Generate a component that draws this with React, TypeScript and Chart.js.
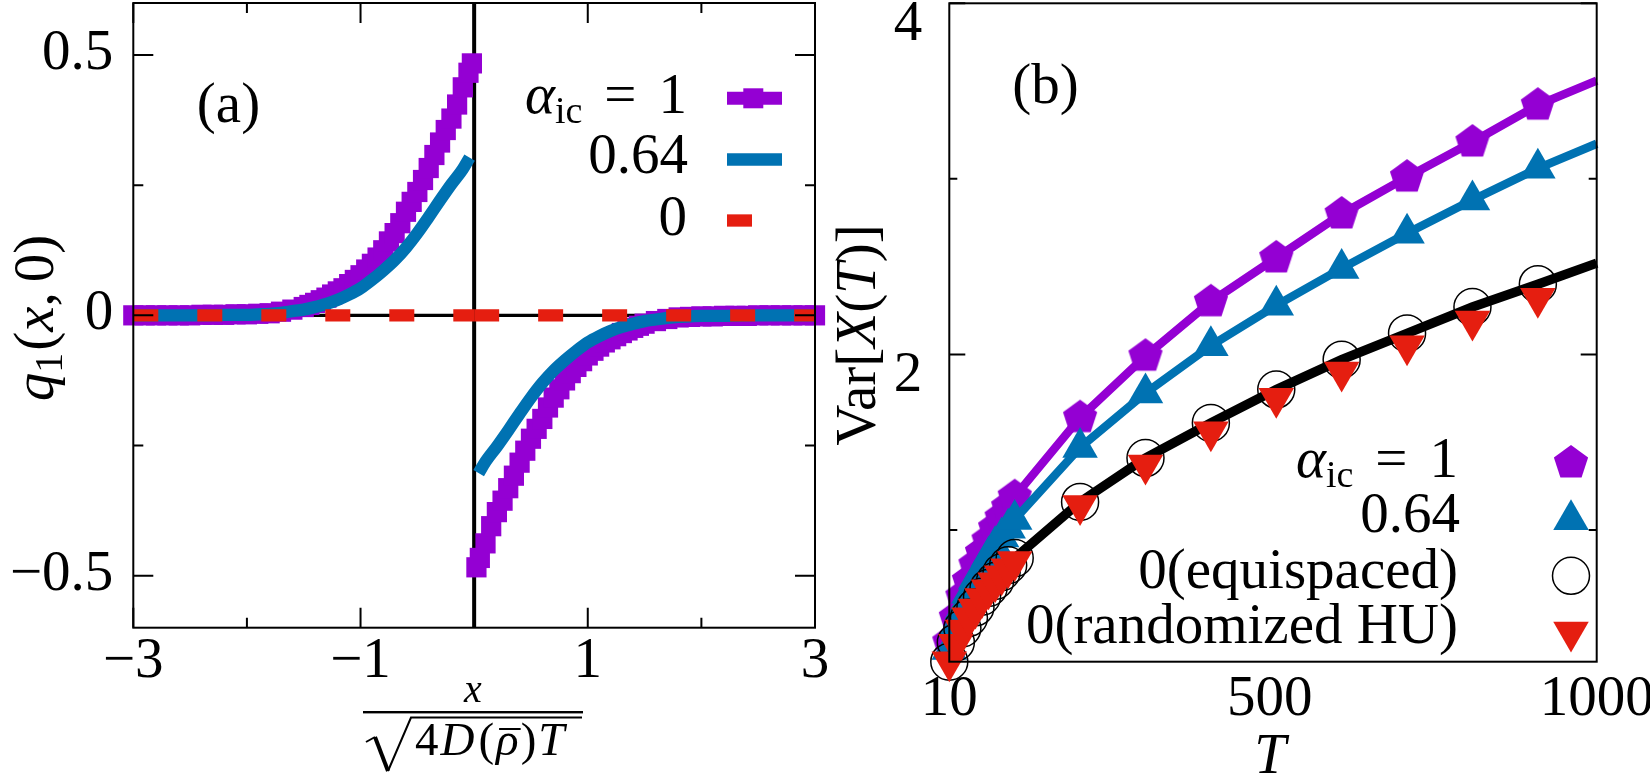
import React, { useEffect, useRef } from 'react';
import { Chart, registerables } from 'chart.js';

Chart.register(...registerables);

const FAMILY = "'Liberation Serif', 'Times New Roman', serif";
const FS = 57;
const PURPLE = '#9400d3';
const BLUE = '#0072b2';
const RED = '#e51e10';

// ---------------- Panel (a) ----------------
const aXTicks = [-3, -1, 1, 3];
const aXMinor = [-2, 0, 2];
const aYTicks = [-0.5, 0, 0.5];
const aYMinor = [-0.25, 0.25];

const purpleXLeft = [-3.0, -2.9, -2.8, -2.7, -2.6, -2.5, -2.4, -2.3, -2.2, -2.1, -2.0, -1.9, -1.8, -1.7, -1.6, -1.5, -1.45, -1.4, -1.35, -1.3, -1.25, -1.2, -1.15, -1.1, -1.05, -1.0, -0.95, -0.9, -0.85, -0.8, -0.75, -0.7, -0.65, -0.6, -0.55, -0.5, -0.45, -0.4, -0.35, -0.3, -0.25, -0.2, -0.15, -0.1, -0.05, -0.02];
const purpleQLeft = [0, 0, 0, 0, 0, 0, 0.001, 0.001, 0.001, 0.002, 0.002, 0.003, 0.004, 0.007, 0.011, 0.016, 0.020, 0.024, 0.029, 0.034, 0.040, 0.046, 0.052, 0.060, 0.068, 0.077, 0.088, 0.099, 0.111, 0.125, 0.142, 0.158, 0.177, 0.199, 0.218, 0.237, 0.260, 0.283, 0.308, 0.332, 0.356, 0.378, 0.405, 0.438, 0.466, 0.484];
const purpleXRight = [0.02, 0.05, 0.1, 0.15, 0.2, 0.25, 0.3, 0.35, 0.4, 0.45, 0.5, 0.55, 0.6, 0.65, 0.7, 0.75, 0.8, 0.85, 0.9, 0.95, 1.0, 1.05, 1.1, 1.15, 1.2, 1.25, 1.3, 1.35, 1.4, 1.45, 1.5, 1.6, 1.7, 1.8, 1.9, 2.0, 2.1, 2.2, 2.3, 2.4, 2.5, 2.6, 2.7, 2.8, 2.9, 3.0];
const purpleQRight = [-0.484, -0.466, -0.438, -0.405, -0.378, -0.356, -0.332, -0.308, -0.283, -0.260, -0.237, -0.218, -0.199, -0.177, -0.158, -0.142, -0.125, -0.111, -0.099, -0.088, -0.077, -0.068, -0.060, -0.052, -0.046, -0.040, -0.034, -0.029, -0.024, -0.020, -0.016, -0.011, -0.007, -0.004, -0.003, -0.002, -0.002, -0.001, -0.001, -0.001, 0, 0, 0, 0, 0, 0];

const blueXLeft = [-3.0, -2.8, -2.6, -2.4, -2.2, -2.0, -1.9, -1.8, -1.7, -1.6, -1.5, -1.4, -1.3, -1.2, -1.1, -1.0, -0.9, -0.8, -0.7, -0.6, -0.5, -0.4, -0.3, -0.2, -0.1, -0.04];
const blueQLeft = [0, 0, 0, 0, 0.001, 0.001, 0.002, 0.003, 0.005, 0.008, 0.011, 0.016, 0.022, 0.030, 0.040, 0.052, 0.068, 0.086, 0.106, 0.130, 0.158, 0.189, 0.221, 0.252, 0.281, 0.303];
const blueXRight = [0.04, 0.1, 0.2, 0.3, 0.4, 0.5, 0.6, 0.7, 0.8, 0.9, 1.0, 1.1, 1.2, 1.3, 1.4, 1.5, 1.6, 1.7, 1.8, 1.9, 2.0, 2.2, 2.4, 2.6, 2.8, 3.0];
const blueQRight = [-0.303, -0.281, -0.252, -0.221, -0.189, -0.158, -0.130, -0.106, -0.086, -0.068, -0.052, -0.040, -0.030, -0.022, -0.016, -0.011, -0.008, -0.005, -0.003, -0.002, -0.001, -0.001, 0, 0, 0, 0];

const redXLeft = [-3, 0];
const redQLeft = [0, 0];
const redXRight = [0, 3];
const redQRight = [0, 0];

// ---------------- Panel (b) ----------------
const bXTicks = [10, 500, 1000];
const bYTicks = [2, 4];
const bYMinor = [1, 3];

const tMarks = [10, 20, 30, 40, 50, 60, 70, 80, 90, 100, 110, 210, 310, 410, 510, 610, 710, 810, 910];
const varPurple = [0.36, 0.50, 0.62, 0.71, 0.80, 0.87, 0.94, 1.01, 1.07, 1.13, 1.19, 1.64, 1.99, 2.30, 2.55, 2.80, 3.01, 3.21, 3.42];
const varBlue = [0.32, 0.45, 0.55, 0.64, 0.72, 0.78, 0.85, 0.91, 0.96, 1.01, 1.06, 1.47, 1.78, 2.05, 2.28, 2.49, 2.69, 2.88, 3.06];
const varEquispaced = [0.25, 0.36, 0.44, 0.50, 0.56, 0.62, 0.67, 0.71, 0.76, 0.80, 0.84, 1.16, 1.41, 1.61, 1.80, 1.97, 2.12, 2.27, 2.40];
const varRandomized = [0.25, 0.35, 0.43, 0.50, 0.55, 0.61, 0.66, 0.70, 0.74, 0.78, 0.82, 1.14, 1.37, 1.56, 1.75, 1.90, 2.05, 2.19, 2.32];

const tCurve = [10, 20, 30, 40, 50, 60, 70, 80, 90, 100, 110, 210, 310, 410, 510, 610, 710, 810, 910, 1000];
const curvePurple = [0.36, 0.50, 0.62, 0.71, 0.80, 0.87, 0.94, 1.01, 1.07, 1.13, 1.19, 1.64, 1.99, 2.30, 2.55, 2.80, 3.01, 3.21, 3.42, 3.56];
const curveBlue = [0.32, 0.45, 0.55, 0.64, 0.72, 0.78, 0.85, 0.91, 0.96, 1.01, 1.06, 1.47, 1.78, 2.05, 2.28, 2.49, 2.69, 2.88, 3.06, 3.20];
const curveBlack = [0.25, 0.36, 0.44, 0.50, 0.56, 0.62, 0.67, 0.71, 0.76, 0.80, 0.84, 1.16, 1.41, 1.61, 1.80, 1.97, 2.12, 2.27, 2.40, 2.52];

// ---------------- helpers ----------------
const pts = (xs: number[], ys: number[]) => xs.map((x, i) => ({ x, y: ys[i] }));
const fnt = (size: number, italic?: boolean) => `${italic ? 'italic ' : ''}${size}px ${FAMILY}`;
const fmt = (v: number) => (v < 0 ? '\u2212' + String(Math.abs(v)) : String(v));

type Part = { t: string; it?: boolean; s?: number; dy?: number; gap?: number };
function rich(ctx: CanvasRenderingContext2D, parts: Part[], x: number, y: number, align: 'left' | 'center' | 'right') {
  ctx.textAlign = 'left';
  ctx.textBaseline = 'alphabetic';
  ctx.fillStyle = '#000';
  const w = parts.map((p) => {
    ctx.font = fnt(p.s ?? FS, p.it);
    return ctx.measureText(p.t).width;
  });
  const total = parts.reduce((acc, p, i) => acc + (p.gap ?? 0) + w[i], 0);
  let cx = align === 'left' ? x : align === 'center' ? x - total / 2 : x - total;
  const starts: number[] = [];
  parts.forEach((p, i) => {
    cx += p.gap ?? 0;
    ctx.font = fnt(p.s ?? FS, p.it);
    ctx.fillText(p.t, cx, y + (p.dy ?? 0));
    starts.push(cx);
    cx += w[i];
  });
  return { starts, widths: w };
}

function pentagonPath(ctx: CanvasRenderingContext2D, cx: number, cy: number, r: number) {
  ctx.beginPath();
  for (let k = 0; k < 5; k++) {
    const ang = -Math.PI / 2 + (k * 2 * Math.PI) / 5;
    const px = cx + r * Math.cos(ang);
    const py = cy + r * Math.sin(ang);
    if (k === 0) ctx.moveTo(px, py);
    else ctx.lineTo(px, py);
  }
  ctx.closePath();
}

function trianglePath(ctx: CanvasRenderingContext2D, cx: number, cy: number, r: number, down: boolean) {
  const s = down ? -1 : 1;
  ctx.beginPath();
  ctx.moveTo(cx, cy - s * r);
  ctx.lineTo(cx + r * Math.sin((2 * Math.PI) / 3), cy - s * r * Math.cos((2 * Math.PI) / 3));
  ctx.lineTo(cx - r * Math.sin((2 * Math.PI) / 3), cy - s * r * Math.cos((2 * Math.PI) / 3));
  ctx.closePath();
}

function drawTicks(chart: any, xMaj: number[], xMin: number[], yMaj: number[], yMin: number[], lx: number, sx: number, ly: number, sy: number) {
  const { ctx, chartArea: ar, scales } = chart;
  ctx.save();
  ctx.strokeStyle = '#000';
  ctx.lineWidth = 2;
  ctx.strokeRect(ar.left, ar.top, ar.right - ar.left, ar.bottom - ar.top);
  ctx.beginPath();
  const vt = (v: number, len: number) => {
    const p = scales.x.getPixelForValue(v);
    ctx.moveTo(p, ar.bottom); ctx.lineTo(p, ar.bottom - len);
    ctx.moveTo(p, ar.top); ctx.lineTo(p, ar.top + len);
  };
  const ht = (v: number, len: number) => {
    const p = scales.y.getPixelForValue(v);
    ctx.moveTo(ar.left, p); ctx.lineTo(ar.left + len, p);
    ctx.moveTo(ar.right, p); ctx.lineTo(ar.right - len, p);
  };
  xMaj.forEach((v) => vt(v, lx));
  xMin.forEach((v) => vt(v, sx));
  yMaj.forEach((v) => ht(v, ly));
  yMin.forEach((v) => ht(v, sy));
  ctx.stroke();
  ctx.restore();
}

const panelAPlugin = {
  id: 'panelA',
  beforeDatasetsDraw(chart: any) {
    const { ctx, chartArea: ar, scales } = chart;
    ctx.save();
    ctx.strokeStyle = '#000';
    ctx.lineWidth = 3.3;
    const y0 = scales.y.getPixelForValue(0);
    ctx.beginPath(); ctx.moveTo(ar.left, y0); ctx.lineTo(ar.right, y0); ctx.stroke();
    ctx.lineWidth = 4;
    const x0 = scales.x.getPixelForValue(0);
    ctx.beginPath(); ctx.moveTo(x0, ar.top); ctx.lineTo(x0, ar.bottom); ctx.stroke();
    ctx.restore();
  },
  afterDatasetsDraw(chart: any) {
    const ctx: CanvasRenderingContext2D = chart.ctx;
    drawTicks(chart, aXTicks, aXMinor, aYTicks, aYMinor, 20, 10, 20, 10);
    ctx.save();
    // panel tag
    rich(ctx, [{ t: '(a)' }], 228.5, 122, 'center');
    // y title
    ctx.save();
    ctx.translate(53, 318);
    ctx.rotate(-Math.PI / 2);
    rich(ctx, [{ t: 'q', it: true }, { t: '1', s: 40, dy: 9 }, { t: '(', gap: 2 }, { t: 'x', it: true }, { t: ',' }, { t: '0', gap: 10 }, { t: ')' }], 0, 0, 'center');
    ctx.restore();
    // x title: fraction
    rich(ctx, [{ t: 'x', it: true, s: 40 }], 473, 702, 'center');
    ctx.fillStyle = '#000';
    ctx.fillRect(363, 711, 220, 2.4);
    ctx.strokeStyle = '#000';
    ctx.lineJoin = 'miter';
    ctx.beginPath();
    ctx.lineWidth = 2;
    ctx.moveTo(366, 742);
    ctx.lineTo(375, 737);
    ctx.stroke();
    ctx.beginPath();
    ctx.lineWidth = 4;
    ctx.moveTo(375, 737);
    ctx.lineTo(388, 771);
    ctx.stroke();
    ctx.beginPath();
    ctx.lineWidth = 2;
    ctx.moveTo(388, 771);
    ctx.lineTo(411, 717.5);
    ctx.lineTo(582, 717.5);
    ctx.stroke();
    const d = 47;
    const r = rich(ctx, [
      { t: '4', s: d },
      { t: 'D', it: true, s: d, gap: 2 },
      { t: '(', s: d, gap: 4 },
      { t: '\u03c1', it: true, s: d, gap: 2 },
      { t: ')', s: d, gap: 2 },
      { t: 'T', it: true, s: d, gap: 2 },
    ], 415, 755, 'left');
    ctx.fillRect(r.starts[3] + 3, 728, r.widths[3] - 1, 2);
    // legend
    rich(ctx, [{ t: '\u03b1', it: true }, { t: 'ic', s: 38, dy: 10 }, { t: '=', gap: 22 }, { t: '1', gap: 22 }], 687, 113, 'right');
    rich(ctx, [{ t: '0.64' }], 688, 173, 'right');
    rich(ctx, [{ t: '0' }], 687, 235, 'right');
    ctx.lineCap = 'butt';
    ctx.strokeStyle = PURPLE;
    ctx.lineWidth = 13;
    ctx.beginPath(); ctx.moveTo(727, 98.3); ctx.lineTo(782, 98.3); ctx.stroke();
    ctx.fillStyle = PURPLE;
    ctx.fillRect(743.3, 88.3, 20, 20);
    ctx.strokeStyle = BLUE;
    ctx.lineWidth = 12.3;
    ctx.beginPath(); ctx.moveTo(727, 159.5); ctx.lineTo(782, 159.5); ctx.stroke();
    ctx.strokeStyle = RED;
    ctx.beginPath(); ctx.moveTo(727, 220.5); ctx.lineTo(752, 220.5); ctx.stroke();
    ctx.restore();
  },
};

const OXB = 830;
let pentagonImg: HTMLCanvasElement | null = null;

const panelBPlugin = {
  id: 'panelB',
  afterDatasetsDraw(chart: any) {
    const ctx: CanvasRenderingContext2D = chart.ctx;
    drawTicks(chart, [], [], bYTicks, bYMinor, 0, 0, 16, 8);
    ctx.save();
    rich(ctx, [{ t: '(b)' }], 1045.5 - OXB, 103, 'center');
    ctx.save();
    ctx.translate(875 - OXB, 335);
    ctx.rotate(-Math.PI / 2);
    rich(ctx, [{ t: 'Var' }, { t: '[' }, { t: 'X', it: true }, { t: '(' }, { t: 'T', it: true }, { t: ')' }, { t: ']' }], 0, 0, 'center');
    ctx.restore();
    rich(ctx, [{ t: 'T', it: true }], 1270 - OXB, 773, 'center');
    // legend
    const rx = 1458 - OXB;
    rich(ctx, [{ t: '\u03b1', it: true }, { t: 'ic', s: 38, dy: 10 }, { t: '=', gap: 22 }, { t: '1', gap: 22 }], rx, 477, 'right');
    rich(ctx, [{ t: '0.64' }], rx + 2, 532, 'right');
    rich(ctx, [{ t: '0(equispaced)' }], rx, 588, 'right');
    rich(ctx, [{ t: '0(randomized HU)' }], rx, 643, 'right');
    const mx = 1571 - OXB;
    ctx.fillStyle = PURPLE;
    pentagonPath(ctx, mx, 463, 18);
    ctx.fill();
    ctx.fillStyle = BLUE;
    trianglePath(ctx, mx, 519.7, 20.5, false);
    ctx.fill();
    ctx.strokeStyle = '#000';
    ctx.lineWidth = 1.5;
    ctx.beginPath();
    ctx.arc(mx, 575.8, 18.5, 0, Math.PI * 2);
    ctx.stroke();
    ctx.fillStyle = RED;
    trianglePath(ctx, mx, 632, 20.5, true);
    ctx.fill();
    ctx.restore();
  },
};

const tickFont = { family: FAMILY, size: FS };

function makeA(canvas: HTMLCanvasElement) {
  return new Chart(canvas, {
    type: 'scatter',
    data: {
      datasets: [
        { data: pts(redXLeft, redQLeft), showLine: true, borderColor: RED, borderWidth: 12.3, borderDash: [25, 39], borderCapStyle: 'butt', pointRadius: 0, clip: false },
        { data: pts(redXRight, redQRight), showLine: true, borderColor: RED, borderWidth: 12.3, borderDash: [25, 39], borderCapStyle: 'butt', pointRadius: 0, clip: false },
        { data: pts(blueXLeft, blueQLeft), showLine: true, borderColor: BLUE, borderWidth: 12.3, cubicInterpolationMode: 'monotone', borderCapStyle: 'butt', pointRadius: 0, clip: false },
        { data: pts(blueXRight, blueQRight), showLine: true, borderColor: BLUE, borderWidth: 12.3, cubicInterpolationMode: 'monotone', borderCapStyle: 'butt', pointRadius: 0, clip: false },
        { data: pts(purpleXLeft, purpleQLeft), showLine: true, borderColor: PURPLE, backgroundColor: PURPLE, borderWidth: 13, pointStyle: 'rect', pointRadius: 14.3, pointBorderWidth: 0, borderCapStyle: 'butt', clip: false },
        { data: pts(purpleXRight, purpleQRight), showLine: true, borderColor: PURPLE, backgroundColor: PURPLE, borderWidth: 13, pointStyle: 'rect', pointRadius: 14.3, pointBorderWidth: 0, borderCapStyle: 'butt', clip: false },
      ] as any,
    },
    options: {
      animation: false,
      responsive: false,
      maintainAspectRatio: false,
      events: [],
      layout: { autoPadding: false, padding: { left: 0, top: 3, right: 15, bottom: 0 } },
      plugins: { legend: { display: false }, tooltip: { enabled: false } },
      scales: {
        x: {
          type: 'linear', min: -3, max: 3,
          grid: { display: false, drawTicks: false }, border: { display: false },
          ticks: { font: tickFont, color: '#000', padding: 0, autoSkip: false, maxRotation: 0, callback: (v: any) => fmt(Number(v)) },
          afterBuildTicks: (s: any) => { s.ticks = aXTicks.map((v) => ({ value: v })); },
          afterFit: (s: any) => { s.height = 150.3; s.paddingLeft = 0; s.paddingRight = 0; },
        },
        y: {
          type: 'linear', min: -0.6, max: 0.6,
          grid: { display: false, drawTicks: false }, border: { display: false },
          ticks: { font: tickFont, color: '#000', padding: 20, autoSkip: false, labelOffset: -1, callback: (v: any) => fmt(Number(v)) },
          afterBuildTicks: (s: any) => { s.ticks = aYTicks.map((v) => ({ value: v })); },
          afterFit: (s: any) => { s.width = 133.3; s.paddingTop = 0; s.paddingBottom = 0; },
        },
      },
    } as any,
    plugins: [panelAPlugin],
  });
}

function makeB(canvas: HTMLCanvasElement) {
  if (!pentagonImg) {
    const c = document.createElement('canvas');
    c.width = 40;
    c.height = 40;
    const g = c.getContext('2d')!;
    g.fillStyle = PURPLE;
    pentagonPath(g, 20, 20, 18);
    g.fill();
    pentagonImg = c;
  }
  return new Chart(canvas, {
    type: 'scatter',
    data: {
      datasets: [
        { data: pts(tMarks, varRandomized), pointStyle: 'triangle', rotation: 180, pointRadius: 20.5, backgroundColor: RED, pointBorderWidth: 0, borderWidth: 0, showLine: false, clip: false },
        { data: pts(tMarks, varEquispaced), pointStyle: 'circle', pointRadius: 18.5, backgroundColor: 'rgba(0,0,0,0)', borderColor: '#000', pointBorderWidth: 1.5, showLine: false, clip: false },
        { data: pts(tCurve, curveBlack), showLine: true, borderColor: '#000', borderWidth: 9.5, pointRadius: 0, clip: false },
        { data: pts(tMarks, varBlue), pointStyle: 'triangle', pointRadius: 20.5, backgroundColor: BLUE, pointBorderWidth: 0, borderWidth: 0, showLine: false, clip: false },
        { data: pts(tCurve, curveBlue), showLine: true, borderColor: BLUE, borderWidth: 8.5, pointRadius: 0, clip: false },
        { data: pts(tMarks, varPurple), pointStyle: pentagonImg, pointRadius: 18, backgroundColor: PURPLE, showLine: false, clip: false },
        { data: pts(tCurve, curvePurple), showLine: true, borderColor: PURPLE, borderWidth: 8.5, pointRadius: 0, clip: false },
      ] as any,
    },
    options: {
      animation: false,
      responsive: false,
      maintainAspectRatio: false,
      events: [],
      layout: { autoPadding: false, padding: { left: 0, top: 3.3, right: 53.3, bottom: 0 } },
      plugins: { legend: { display: false }, tooltip: { enabled: false } },
      scales: {
        x: {
          type: 'linear', min: 10, max: 1000,
          grid: { display: false, drawTicks: false }, border: { display: false },
          ticks: { font: tickFont, color: '#000', padding: 4, autoSkip: false, maxRotation: 0, callback: (v: any) => String(v) },
          afterBuildTicks: (s: any) => { s.ticks = bXTicks.map((v) => ({ value: v })); },
          afterFit: (s: any) => { s.height = 116.3; s.paddingLeft = 0; s.paddingRight = 0; },
        },
        y: {
          type: 'linear', min: 0.25, max: 4,
          grid: { display: false, drawTicks: false }, border: { display: false },
          ticks: { font: tickFont, color: '#000', padding: 27, autoSkip: false, labelOffset: 22, callback: (v: any) => String(v) },
          afterBuildTicks: (s: any) => { s.ticks = bYTicks.map((v) => ({ value: v })); },
          afterFit: (s: any) => { s.width = 119.3; s.paddingTop = 0; s.paddingBottom = 0; },
        },
      },
    } as any,
    plugins: [panelBPlugin],
  });
}

export default function App() {
  const refA = useRef<HTMLCanvasElement>(null);
  const refB = useRef<HTMLCanvasElement>(null);
  useEffect(() => {
    const a = makeA(refA.current!);
    const b = makeB(refB.current!);
    return () => {
      a.destroy();
      b.destroy();
    };
  }, []);
  return (
    <div style={{ position: 'fixed', left: 0, top: 0, width: 1650, height: 778, background: '#fff', overflow: 'hidden' }}>
      <canvas ref={refA} width={830} height={778} style={{ position: 'absolute', left: 0, top: 0, width: 830, height: 778 }} />
      <canvas ref={refB} width={820} height={778} style={{ position: 'absolute', left: OXB, top: 0, width: 820, height: 778 }} />
    </div>
  );
}
